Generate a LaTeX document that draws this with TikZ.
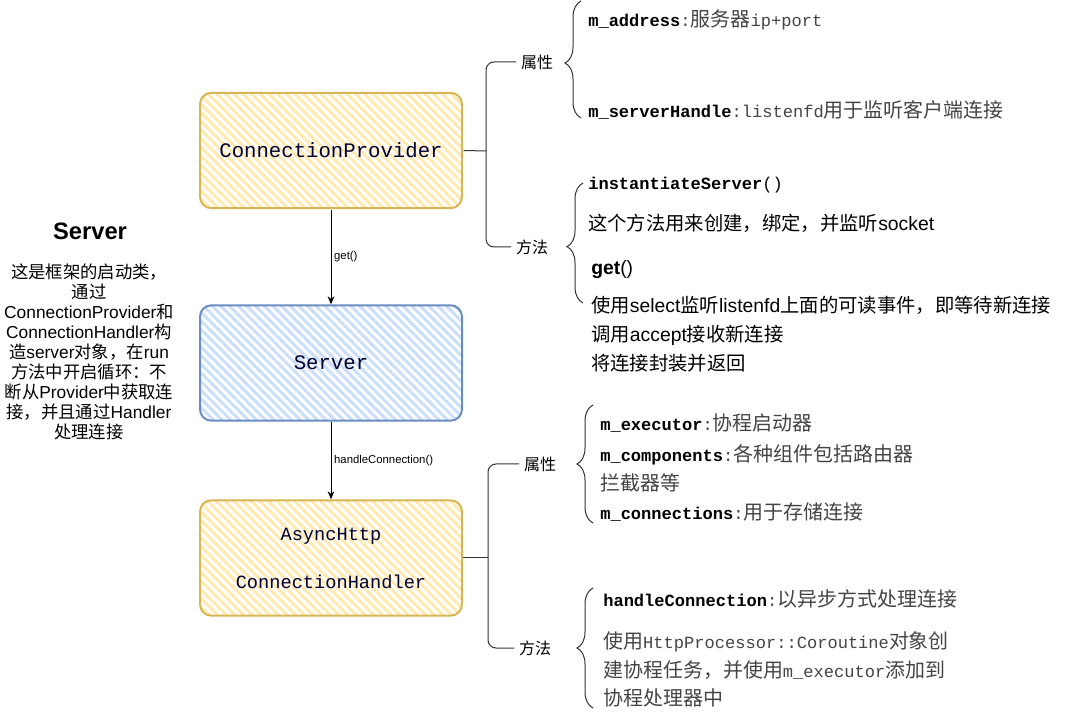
\documentclass[tikz,border=0pt]{standalone}
\usepackage{fontspec}
\setmainfont{Liberation Sans}
\setmonofont{Liberation Mono}
\newfontfamily\zhfont{Noto Sans CJK SC}
\newfontfamily\zhmonofont{Noto Sans CJK SC}[Scale=1.17]
\newcommand{\zh}[1]{{\zhfont #1}}
\newcommand{\zhm}[1]{{\zhmonofont #1}}
\newcommand{\fld}[1]{\textcolor{black}{\textbf{#1}}}
\usetikzlibrary{arrows.meta,positioning,decorations.pathreplacing,patterns.meta}
\definecolor{ylwfill}{HTML}{FFEAB0}
\definecolor{ylwline}{HTML}{D6B656}
\definecolor{bluefill}{HTML}{CCDFFA}
\definecolor{blueline}{HTML}{6C8EBF}
\definecolor{navytxt}{HTML}{000033}
\definecolor{greytxt}{HTML}{444444}
\tikzset{
  cls/.style = {rectangle, rounded corners=8.5pt, line width=1.5pt, align=center,
    text=navytxt, minimum width=196.5pt, minimum height=86.5pt,
    font=\ttfamily\fontsize{15.5}{18}\selectfont},% class box
  cls_y/.style = {cls, draw=ylwline, pattern color=ylwfill,
    pattern={Lines[angle=-45,distance=4.6pt,line width=2.3pt]}},% yellow hatch
  cls_b/.style = {cls, draw=blueline, pattern color=bluefill,
    pattern={Lines[angle=-45,distance=4.6pt,line width=2.3pt]}},% blue hatch
  call/.style = {-{Stealth[length=6pt,width=5pt]}, line width=0.75pt},
  call_l/.style = {right, inner sep=2pt, font=\fontsize{8.5}{10}\selectfont},
  grp/.style = {inner xsep=3.5pt, font=\fontsize{12}{14}\selectfont},% 属性 / 方法
  tree_l/.style = {rounded corners=6pt, line width=0.75pt, black!80},
  brace_l/.style = {decorate, decoration={brace, amplitude=12pt},
    line width=0.75pt, black!80},
  mem/.style = {anchor=west, inner sep=0pt, text=greytxt,
    font=\ttfamily\fontsize{12.8}{15}\selectfont},% member line
  txt/.style = {anchor=west, inner sep=0pt, font=\fontsize{14.5}{17}\selectfont}
}
\begin{document}
\begin{tikzpicture}[x=0.75pt, y=-0.75pt]
\useasboundingbox (0,0) rectangle (1076,727);
\fill[white] (0,0) rectangle (1076,727);

% left description
\node[font=\bfseries\fontsize{17.8}{20}\selectfont] (ttl) at (90,231) {Server};
\node[align=center, inner sep=0pt, font=\fontsize{13}{15}\selectfont] (desc) at (89,352)
  {\zh{这是框架的启动类，}\\ \zh{通过}\\ ConnectionProvider\zh{和}\\
   ConnectionHandler\zh{构}\\ \zh{造}server\zh{对象，在}run\\
   \zh{方法中开启循环：不}\\ \zh{断从}Provider\zh{中获取连}\\
   \zh{接，并且通过}Handler\\ \zh{处理连接}};

% classes
\node[cls_y] (prov) at (331,150.5) {ConnectionProvider};
\node[cls_b] (srv) at (331,363) {Server};
\node[cls_y, font=\ttfamily\fontsize{14}{16}\selectfont] (hdl) at (331,558)
  {AsyncHttp\\[20pt]ConnectionHandler};

\draw[call] (prov) -- node[call_l] {get()} (srv);
\draw[call] (srv) -- node[call_l] {handleConnection()} (hdl);

% ConnectionProvider
\node[grp] (p_attr) at (537,62) {\zh{属性}};
\node[grp] (p_meth) at (532,247) {\zh{方法}};
\coordinate (pj) at (486,151);
\draw[tree_l] (prov.east) -- (pj);
\draw[tree_l] (p_attr.west) -| (pj) |- (p_meth.west);

\coordinate (pb1b) at (581,118);
\coordinate (pb1t) at (581,1);
\coordinate (pb2b) at (583,303);
\coordinate (pb2t) at (583,183);
\draw[brace_l, decoration={aspect=0.47}] (pb1b) -- (pb1t);
\draw[brace_l, decoration={aspect=0.47}] (pb2b) -- (pb2t);

\node[mem] (a_addr) at (588,20) {\fld{m\_address}:\zhm{服务器}ip+port};
\node[mem] (a_lsn) at (588,110) {\fld{m\_serverHandle}:listenfd\zhm{用于监听客户端连接}};
\node[mem, text=black] (m_inst) at (588,185) {\textbf{instantiateServer}()};
\node[txt] (m_inst_d) at (588,223) {\zh{这个方法用来创建，绑定，并监听}socket};
\node[txt] (m_get) at (591,270) {\textbf{get}()};
\node[txt] (m_get_d1) at (591,305) {\zh{使用}select\zh{监听}listenfd\zh{上面的可读事件，即等待新连接}};
\node[txt] (m_get_d2) at (591,335) {\zh{调用}accept\zh{接收新连接}};
\node[txt] (m_get_d3) at (591,363) {\zh{将连接封装并返回}};

% AsyncHttpConnectionHandler
\node[grp] (h_attr) at (540,464) {\zh{属性}};
\node[grp] (h_meth) at (535,648) {\zh{方法}};
\coordinate (hj) at (488,558);
\draw[tree_l] (hdl.east) -- (hj);
\draw[tree_l] (h_attr.west) -| (hj) |- (h_meth.west);

\coordinate (hb1b) at (593,523);
\coordinate (hb1t) at (593,405);
\coordinate (hb2b) at (593,708);
\coordinate (hb2t) at (593,588);
\draw[brace_l] (hb1b) -- (hb1t);
\draw[brace_l] (hb2b) -- (hb2t);

\node[mem] (h_exec) at (600,423) {\fld{m\_executor}:\zhm{协程启动器}};
\node[mem] (h_comp) at (600,455) {\fld{m\_components}:\zhm{各种组件包括路由器}};
\node[mem] (h_comp2) at (600,483) {\zhm{拦截器等}};
\node[mem] (h_conn) at (600,512) {\fld{m\_connections}:\zhm{用于存储连接}};
\node[mem] (h_hc) at (603,599) {\fld{handleConnection}:\zhm{以异步方式处理连接}};
\node[mem] (h_hc1) at (603,642) {\zhm{使用}HttpProcessor::Coroutine\zhm{对象创}};
\node[mem] (h_hc2) at (603,670) {\zhm{建协程任务，并使用}m\_executor\zhm{添加到}};
\node[mem] (h_hc3) at (603,698) {\zhm{协程处理器中}};
\end{tikzpicture}
\end{document}
